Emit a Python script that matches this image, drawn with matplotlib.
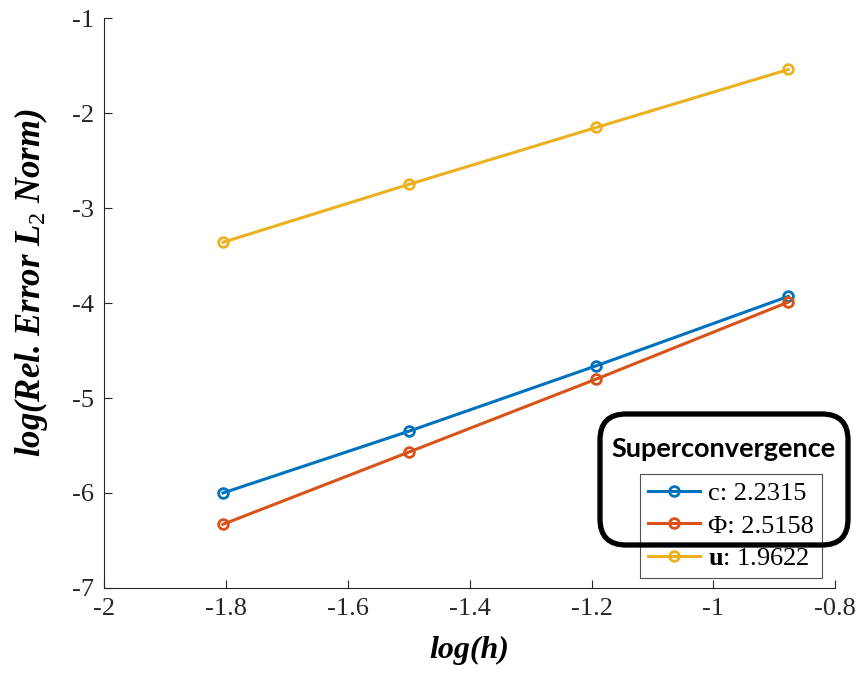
import matplotlib
matplotlib.use("Agg")
import matplotlib.pyplot as plt
from matplotlib.patches import FancyBboxPatch
from matplotlib.transforms import IdentityTransform

plt.rcParams['font.family'] = ['Liberation Serif', 'DejaVu Serif']
plt.rcParams['mathtext.fontset'] = 'custom'
plt.rcParams['mathtext.rm'] = 'Liberation Serif'
plt.rcParams['mathtext.it'] = 'Liberation Serif:italic:bold'
plt.rcParams['mathtext.bf'] = 'Liberation Serif:bold'

# data
logH = [-1.805, -1.500, -1.192, -0.877]
errC = [-6.00, -5.35, -4.66, -3.93]
errPhi = [-6.33, -5.57, -4.80, -3.99]
errU = [-3.36, -2.75, -2.15, -1.54]
legendNames = ["c: 2.2315", "\u03a6: 2.5158", r"$\mathbf{u}$: 1.9622"]

xTicks = [-2, -1.8, -1.6, -1.4, -1.2, -1, -0.8]
xTickLabels = ["-2", "-1.8", "-1.6", "-1.4", "-1.2", "-1", "-0.8"]
yTicks = [-7, -6, -5, -4, -3, -2, -1]
yTickLabels = ["-7", "-6", "-5", "-4", "-3", "-2", "-1"]

colors = ["#0072BD", "#D95319", "#EDB120"]

fig = plt.figure(figsize=(8.61, 6.75), dpi=100)
ax = fig.add_axes([0.121, 0.129, 0.849, 0.844])

for ys, col, name in zip([errC, errPhi, errU], colors, legendNames):
    ax.plot(logH, ys, color=col, lw=2.2, marker="o", markersize=7,
            markerfacecolor="none", markeredgewidth=2, label=name)

ax.set_xlim(-2, -0.8)
ax.set_ylim(-7, -1)
ax.set_xticks(xTicks)
ax.set_xticklabels(xTickLabels)
ax.set_yticks(yTicks)
ax.set_yticklabels(yTickLabels)
ax.tick_params(direction="in", length=6, width=0.8, color="#262626",
               labelsize=19, labelcolor="#262626", pad=7)
for s in ["top", "right"]:
    ax.spines[s].set_visible(False)
for s in ["left", "bottom"]:
    ax.spines[s].set_color("#262626")
    ax.spines[s].set_linewidth(0.8)

ax.set_xlabel("log(h)", fontsize=23, style="italic", fontweight="bold", labelpad=12)
ax.set_ylabel(r"log(Rel. Error $L_2$ Norm)", fontsize=25, style="italic",
              fontweight="bold")
ax.yaxis.set_label_coords(-0.074, 0.535)

leg = ax.legend(loc="lower right", bbox_to_anchor=(0.982, 0.017), fontsize=19,
                frameon=True, fancybox=False, handlelength=2.0, handletextpad=0.3,
                borderpad=0.3, labelspacing=0.35, borderaxespad=0)
leg.get_frame().set_edgecolor("#262626")
leg.get_frame().set_linewidth(0.8)

# rounded annotation box, in pixels from the bottom left
box = FancyBboxPatch((600, 675 - 545), 248, 131,
                     boxstyle="round,pad=0,rounding_size=26",
                     transform=IdentityTransform(), fill=False, edgecolor="black",
                     linewidth=3.8, zorder=10)
fig.patches.append(box)
fig.text(724 / 861, 1 - 449 / 675, "Superconvergence", fontsize=19.5,
         fontweight="bold", family="Lato", ha="center", va="center")

fig.savefig("out.png", dpi=100)
